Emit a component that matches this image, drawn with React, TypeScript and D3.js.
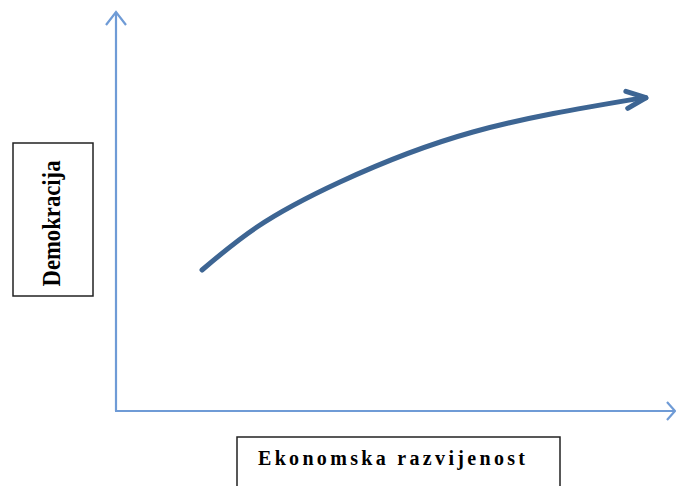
import React from "react";
import * as d3 from "d3";

// Curve points (abstract units: economic development vs democracy)
const curveX = [1.536, 2.518, 4.0, 6.375, 9.32];
const curveY = [3.525, 4.6, 5.725, 6.975, 7.81];
const xLabel = "Ekonomska razvijenost";
const yLabel = "Demokracija";

const W = 676;
const H = 486;

export default function App() {
  const x = d3.scaleLinear().domain([0, 10]).range([116, 676]);
  const y = d3.scaleLinear().domain([0, 10]).range([411, 11]);
  const pts: [number, number][] = curveX.map((v, i) => [x(v), y(curveY[i])]);
  const line = d3.line().curve(d3.curveNatural)(pts) || "";

  // arrow head for curve
  const [x1, y1] = pts[pts.length - 2];
  const [x2, y2] = pts[pts.length - 1];
  const ang = Math.atan2(y2 - y1, x2 - x1) + 0.09;
  const tip: [number, number] = [x2 + 8 * Math.cos(ang), y2 + 8 * Math.sin(ang)];
  const L = 21;
  const spread = 0.42;
  const b1 = [tip[0] - L * Math.cos(ang - spread), tip[1] - L * Math.sin(ang - spread)];
  const b2 = [tip[0] - L * Math.cos(ang + spread), tip[1] - L * Math.sin(ang + spread)];

  const axisColor = "#6f9bd6";
  const curveColor = "#3d6593";
  const x0 = x(0);
  const yb = y(0);

  return (
    <svg width={W} height={H} style={{ position: "absolute", left: 0, top: 0, background: "#fff" }}>
      {/* axes */}
      <line x1={x0} y1={yb} x2={x0} y2={12} stroke={axisColor} strokeWidth={2.2} />
      <path d={`M${x0 - 10},25 L${x0},12 L${x0 + 10},25`} fill="none" stroke={axisColor} strokeWidth={2.2} />
      <line x1={x0 - 1} y1={yb} x2={675} y2={yb} stroke={axisColor} strokeWidth={2.2} />
      <path d={`M667,${yb - 9} L675,${yb} L667,${yb + 9}`} fill="none" stroke={axisColor} strokeWidth={2.2} />

      {/* curve */}
      <path d={line} fill="none" stroke={curveColor} strokeWidth={5} strokeLinecap="round" />
      <line x1={x2} y1={y2} x2={tip[0]} y2={tip[1]} stroke={curveColor} strokeWidth={5} strokeLinecap="round" />
      <path
        d={`M${b1[0]},${b1[1]} L${tip[0]},${tip[1]} L${b2[0]},${b2[1]}`}
        fill="none"
        stroke={curveColor}
        strokeWidth={5}
        strokeLinecap="round"
        strokeLinejoin="round"
      />

      {/* y label box */}
      <rect x={13} y={143} width={80} height={153} fill="#fff" stroke="#222" strokeWidth={1.5} />
      <text
        transform={`translate(60,223.5) rotate(-90)`}
        textAnchor="middle"
        fontFamily="Liberation Serif, serif"
        fontWeight="bold"
        fontSize={25}
        fill="#000"
        textLength={126}
        lengthAdjust="spacingAndGlyphs"
      >
        {yLabel}
      </text>

      {/* x label box */}
      <rect x={237} y={437} width={323} height={60} fill="#fff" stroke="#222" strokeWidth={1.5} />
      <text
        x={258}
        y={465}
        fontFamily="Liberation Serif, serif"
        fontWeight="bold"
        fontSize={20}
        fill="#000"
        textLength={267}
        lengthAdjust="spacing"
      >
        {xLabel}
      </text>
    </svg>
  );
}
